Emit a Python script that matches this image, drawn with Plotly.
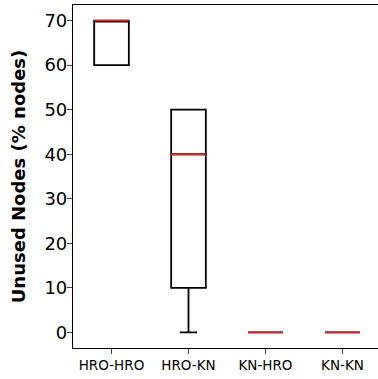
import plotly.graph_objects as go

categories = ["HRO-HRO", "HRO-KN", "KN-HRO", "KN-KN"]
q1 = [60, 10, 0, 0]
median = [70, 40, 0, 0]
q3 = [70, 50, 0, 0]
lower = [60, 0, 0, 0]
upper = [70, 50, 0, 0]
yticks = [0, 10, 20, 30, 40, 50, 60, 70]

positions = list(range(1, len(categories) + 1))
box_w = 0.45

fig = go.Figure()
for i, p in enumerate(positions):
    fig.add_trace(go.Box(
        x=[p], q1=[q1[i]], median=[median[i]], q3=[q3[i]],
        lowerfence=[lower[i]], upperfence=[upper[i]],
        width=box_w, whiskerwidth=0.5,
        line=dict(color="black", width=1.8), fillcolor="rgba(255,255,255,0)",
        boxpoints=False, showlegend=False, hoverinfo="skip",
    ))
for i, p in enumerate(positions):
    fig.add_trace(go.Scatter(
        x=[p - box_w / 2, p + box_w / 2], y=[median[i], median[i]],
        mode="lines", line=dict(color="#d62728", width=1.8),
        showlegend=False, hoverinfo="skip",
    ))

fig.update_layout(
    width=381, height=379,
    margin=dict(l=73, r=0, t=5, b=31),
    paper_bgcolor="white", plot_bgcolor="white",
    font=dict(family="DejaVu Sans", color="black"),
    xaxis=dict(
        range=[0.5, 4.5], tickvals=positions, ticktext=categories,
        tickfont=dict(size=13.5), ticks="outside", ticklen=5, tickwidth=1.2,
        showline=True, linecolor="black", linewidth=1.2, mirror=True,
        showgrid=False, zeroline=False, automargin=False,
    ),
    yaxis=dict(
        range=[-3.5, 73.5], tickvals=yticks,
        tickfont=dict(size=18), ticks="outside", ticklen=5, tickwidth=1.2,
        ticklabelstandoff=-4,
        showline=True, linecolor="black", linewidth=1.2,
        showgrid=False, zeroline=False, automargin=False,
        title=dict(text="<b>Unused Nodes (% nodes)</b>", font=dict(size=18), standoff=14),
    ),
)
fig.write_html("out.html", config={"displayModeBar": False},
               post_script="document.body.style.margin='0';document.body.style.overflow='hidden';document.documentElement.style.overflow='hidden';")
